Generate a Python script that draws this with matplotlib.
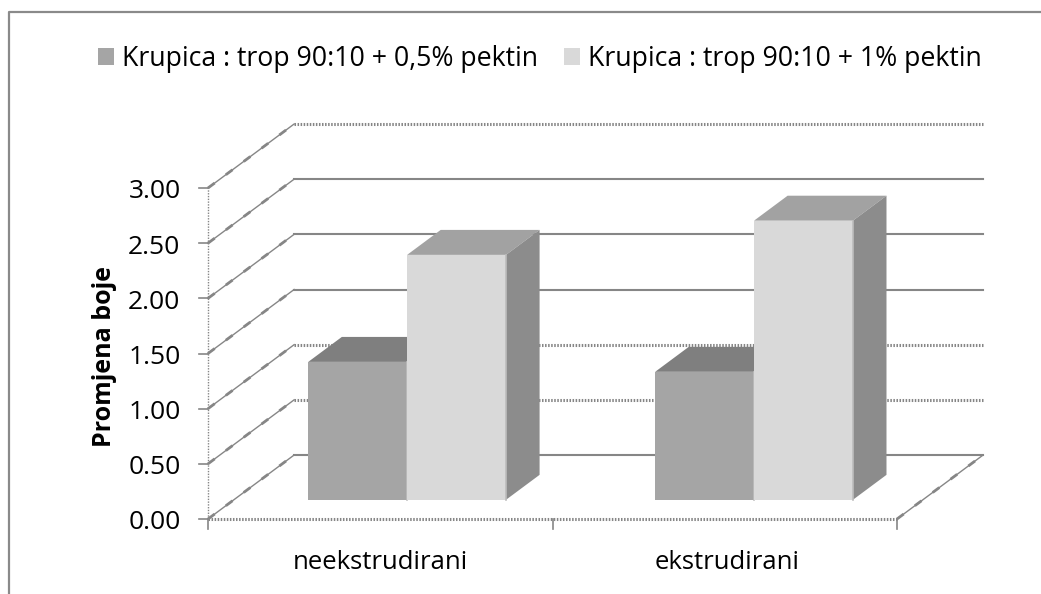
import matplotlib
matplotlib.use('Agg')
import matplotlib.pyplot as plt
from matplotlib.patches import Polygon, Patch
from matplotlib.lines import Line2D

categories = ['neekstrudirani', 'ekstrudirani']
series_names = ['Krupica : trop 90:10 + 0,5% pektin', 'Krupica : trop 90:10 + 1% pektin']
low_pectin = [1.25, 1.16]
high_pectin = [2.22, 2.53]
y_ticks = [0.0, 0.5, 1.0, 1.5, 2.0, 2.5, 3.0]
dotted_back = [0.5, 1.0, 3.0]

# depth of the fake 3d box, in data units
dx_back = 0.25
dy_back = 0.58
d_front = 0.30
d_rear = 0.69
bar_w = 0.287
group_pos = [0.503, 1.51]

plt.rcParams['font.family'] = ['Open Sans', 'DejaVu Sans']

W, H = 1041, 594
fig = plt.figure(figsize=(W / 100, H / 100), dpi=100)
ax = fig.add_axes([208 / W, (H - 519) / H, 689 / W, 331 / H])
ax.set_xlim(0, 2)
ax.set_ylim(0, 3)
ax.axis('off')

GRID = '#868686'
dots = (0, (0.5, 0.5))

# chart frame, open on the right and at the bottom
fig.add_artist(Line2D([9 / W, 9 / W, 1], [0, 1 - 12 / H, 1 - 12 / H], color='#8A8A8A', lw=1.6))


def proj(x, y, d):
    return x + d * dx_back, y + d * dy_back


def side_line(x0, y0, x1, y1):
    # thin line with blobs on it, like the jagged depth lines
    ax.plot([x0, x1], [y0, y1], color=GRID, lw=1.0, clip_on=False, zorder=1)
    ax.plot([x0, x1], [y0, y1], color=GRID, lw=2.0, ls=(0, (3, 5)), clip_on=False, zorder=1)


# walls and grid
for v in y_ticks:
    x0, y0 = proj(0, v, 1)
    x1, y1 = proj(2, v, 1)
    if v in dotted_back:
        ax.plot([x0, x1], [y0, y1], color=GRID, lw=2.2, ls=dots, clip_on=False, zorder=1)
    else:
        ax.plot([x0, x1], [y0, y1], color=GRID, lw=1.5, clip_on=False, zorder=1)
    side_line(0, v, x0, y0)
    ax.plot([-0.027, 0], [v, v], color=GRID, lw=1.2, clip_on=False, zorder=1)

ax.plot([0, 0], [0, 3], color=GRID, lw=1, ls=(0, (1, 1)), clip_on=False, zorder=1)
ax.plot([0, 2], [0, 0], color=GRID, lw=2.2, ls=dots, clip_on=False, zorder=1)
x1, y1 = proj(2, 0, 1)
side_line(2, 0, x1, y1)
for t in [0, 1, 2]:
    ax.plot([t, t], [0, -0.09], color=GRID, lw=1.2, clip_on=False, zorder=1)

# bars
base = d_front * dy_back
z = 3
for i in range(len(categories)):
    for j, vals in enumerate([low_pectin, high_pectin]):
        x_l = group_pos[i] + d_front * dx_back + (j - 1) * bar_w
        x_r = x_l + bar_w
        top = base + vals[i]
        fc = '#A5A5A5' if j == 0 else '#D9D9D9'
        top_c = '#7F7F7F' if j == 0 else '#A2A2A2'
        ddx = (d_rear - d_front) * dx_back
        ddy = (d_rear - d_front) * dy_back
        ax.add_patch(Polygon([(x_l, top), (x_r, top), (x_r + ddx, top + ddy), (x_l + ddx, top + ddy)],
                             closed=True, fc=top_c, ec='none', clip_on=False, zorder=z))
        ax.add_patch(Polygon([(x_r, base), (x_r, top), (x_r + ddx, top + ddy), (x_r + ddx, base + ddy)],
                             closed=True, fc='#8C8C8C', ec='none', clip_on=False, zorder=z))
        ax.bar(x_l, vals[i], width=bar_w, bottom=base, align='edge', color=fc,
               clip_on=False, zorder=z + 1)
        ax.plot([x_r, x_r], [base, top], color='#BDBDBD', lw=1.2, clip_on=False, zorder=z + 2)
        z += 3

# tick labels
for v in y_ticks:
    ax.text(-0.08, v - 0.035, '%.2f' % v, ha='right', va='center', fontsize=19, color='black', clip_on=False)
for i, c in enumerate(categories):
    ax.text(group_pos[i] - 0.002, -0.39, c, ha='center', va='center', fontsize=18.5, color='black',
            clip_on=False)
ax.text(-0.30, 1.47, 'Promjena boje', rotation=90, ha='center', va='center', fontsize=18,
        fontweight='bold', color='black', clip_on=False)

handles = [Patch(fc='#A5A5A5', ec='none'), Patch(fc='#D9D9D9', ec='none')]
fig.legend(handles, series_names, loc='center', bbox_to_anchor=(540 / W, 1 - 59 / H), ncol=2,
           frameon=False, fontsize=19.2, handlelength=0.6, handleheight=0.6, handletextpad=0.3,
           columnspacing=0.95, borderpad=0, borderaxespad=0)

fig.savefig('out.png', dpi=100, facecolor='white')
